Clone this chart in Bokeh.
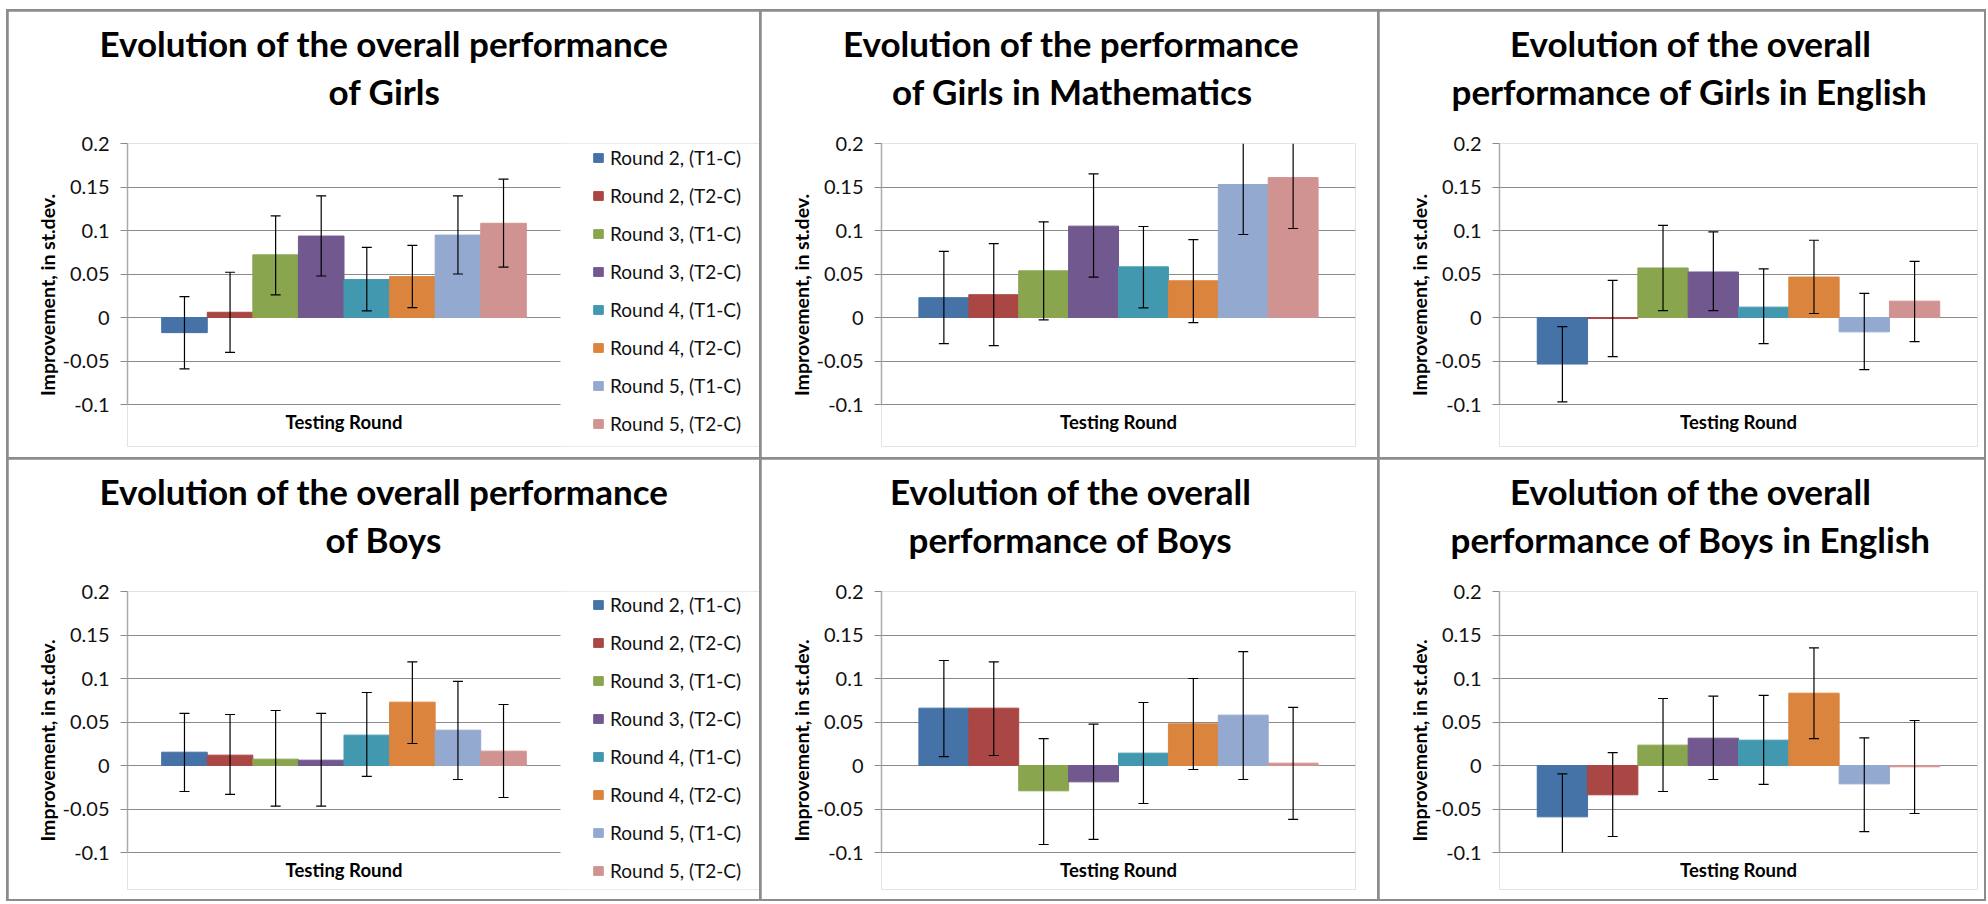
import numpy as np
from bokeh.plotting import figure
from bokeh.models import (Range1d, FixedTicker, LinearAxis, Legend, LegendItem,
                          ColumnDataSource, Grid, Title, Label, BoxAnnotation)
from bokeh.layouts import row, column
from bokeh.embed import file_html
from bokeh.resources import INLINE

# ---------------- data ----------------
series = ["Round 2, (T1-C)", "Round 2, (T2-C)", "Round 3, (T1-C)", "Round 3, (T2-C)",
          "Round 4, (T1-C)", "Round 4, (T2-C)", "Round 5, (T1-C)", "Round 5, (T2-C)"]
colors = ["#4572A7", "#AA4643", "#89A54E", "#71588F",
          "#4198AF", "#DB843D", "#93A9CF", "#D19392"]
y_ticks = [-0.1, -0.05, 0, 0.05, 0.1, 0.15, 0.2]
y_tick_labels = ["-0.1", "-0.05", "0", "0.05", "0.1", "0.15", "0.2"]
x_title = "Testing Round"
y_title = "Improvement, in st.dev."

girls_all = [-0.0174, 0.006, 0.072, 0.0936, 0.0436, 0.047, 0.0947, 0.1083]
girls_all_lo = [-0.059, -0.040, 0.026, 0.0477, 0.0076, 0.0114, 0.050, 0.058]
girls_all_hi = [0.0239, 0.052, 0.1167, 0.1398, 0.0807, 0.083, 0.1398, 0.159]

girls_math = [0.0228, 0.0262, 0.0536, 0.105, 0.0582, 0.0422, 0.1529, 0.1608]
girls_math_lo = [-0.030, -0.0323, -0.0027, 0.0464, 0.011, -0.006, 0.0954, 0.1023]
girls_math_hi = [0.076, 0.0848, 0.110, 0.165, 0.1046, 0.0894, 0.2104, 0.219]

girls_eng = [-0.0535, -0.0012, 0.0569, 0.0523, 0.0119, 0.0465, -0.0165, 0.0188]
girls_eng_lo = [-0.097, -0.045, 0.008, 0.008, -0.030, 0.0046, -0.060, -0.0277]
girls_eng_hi = [-0.0104, 0.0427, 0.106, 0.0985, 0.0558, 0.0888, 0.0277, 0.0646]

boys_all = [0.0153, 0.0119, 0.0073, 0.0061, 0.0349, 0.0728, 0.0406, 0.0165]
boys_all_lo = [-0.0299, -0.0333, -0.0467, -0.0467, -0.0126, 0.0253, -0.0161, -0.0368]
boys_all_hi = [0.0598, 0.0586, 0.0632, 0.0598, 0.0839, 0.119, 0.0966, 0.0701]

boys_all2 = [0.0659, 0.0659, -0.0291, -0.0188, 0.0142, 0.0479, 0.0579, 0.0027]
boys_all2_lo = [0.0103, 0.0115, -0.0908, -0.085, -0.0437, -0.0046, -0.0161, -0.062]
boys_all2_hi = [0.1207, 0.1192, 0.031, 0.0475, 0.0724, 0.100, 0.131, 0.0667]

boys_eng = [-0.059, -0.0337, 0.0234, 0.0314, 0.0291, 0.0831, -0.0211, -0.0015]
boys_eng_lo = [-0.108, -0.0816, -0.0299, -0.0161, -0.0218, 0.031, -0.0759, -0.0552]
boys_eng_hi = [-0.0096, 0.0149, 0.077, 0.0797, 0.0805, 0.1352, 0.0318, 0.0517]

titles = [("Evolution of the overall performance", "of Girls"),
          ("Evolution of the performance", "of Girls in Mathematics"),
          ("Evolution of the overall", "performance of Girls in English"),
          ("Evolution of the overall performance", "of Boys"),
          ("Evolution of the overall", "performance of Boys"),
          ("Evolution of the overall", "performance of Boys in English")]

# approximate rendered widths (px) of the title lines, used to centre them on the panel
title_widths = {"Evolution of the overall performance": 569, "of Girls": 111,
                "Evolution of the performance": 453, "of Girls in Mathematics": 355,
                "Evolution of the overall": 359, "performance of Girls in English": 476,
                "of Boys": 117, "performance of Boys": 322,
                "performance of Boys in English": 478}

FONT = "Lato"
GRID = "#8a8a8a"
TITLE_SIZE = 35
Y_LO, Y_HI = -0.1, 0.2
PLOT_H = 261  # pixel height of the value span -0.1 .. 0.2


def title_obj(text, offset, standoff):
    return Title(text=text, align="left", offset=offset, standoff=standoff,
                 text_font=FONT, text_font_size=f"{TITLE_SIZE}px",
                 text_font_style="bold", text_color="black", text_line_height=1.0)


def make_panel(title, vals, lo, hi, w, h, bl, br, bt, bb, title_center, xlab_dy,
               legend=None):
    """legend: (bars_px_width, legend_x, legend_y) or None"""
    n = len(series)
    x = np.arange(n) + 0.5
    frame_w = w - bl - br
    frame_h = h - bt - bb
    bars_w = frame_w if legend is None else legend[0]
    x_end = -0.75 + (n + 1.5) * frame_w / bars_w
    y_start = Y_HI - frame_h / PLOT_H * (Y_HI - Y_LO)
    p = figure(width=w, height=h, x_range=Range1d(-0.75, x_end),
               y_range=Range1d(y_start, Y_HI), output_backend="svg", toolbar_location=None,
               min_border_left=bl, min_border_right=br, min_border_top=bt,
               min_border_bottom=bb, x_axis_location=None, y_axis_location=None,
               title_location=None)
    p.outline_line_color = None
    p.background_fill_color = "white"
    p.border_fill_color = "white"
    p.grid.visible = False

    p.add_layout(Title(text=" ", text_font_size="2px", standoff=26), "above")
    l1, l2 = title
    p.add_layout(title_obj(l2, title_center - title_widths[l2] / 2 - bl, 4), "above")
    p.add_layout(title_obj(l1, title_center - title_widths[l1] / 2 - bl, 4), "above")

    ticker = FixedTicker(ticks=y_ticks)
    yaxis = LinearAxis(ticker=ticker, bounds=(Y_LO, Y_HI),
                       major_label_overrides={t: l for t, l in zip(y_ticks, y_tick_labels)},
                       axis_label=y_title)
    yaxis.axis_line_color = "#ababab"
    yaxis.axis_line_width = 1.5
    yaxis.major_tick_line_color = GRID
    yaxis.major_tick_out = 7
    yaxis.major_tick_in = 0
    yaxis.minor_tick_line_color = None
    yaxis.major_label_text_font = FONT
    yaxis.major_label_text_font_size = "20px"
    yaxis.major_label_text_color = "#111111"
    yaxis.major_label_standoff = 11
    yaxis.axis_label_text_font = FONT
    yaxis.axis_label_text_font_size = "19.5px"
    yaxis.axis_label_text_font_style = "bold"
    yaxis.axis_label_text_color = "black"
    yaxis.axis_label_standoff = 1
    p.add_layout(yaxis, "left")

    p.add_layout(Grid(dimension=1, ticker=ticker, grid_line_color=GRID, grid_line_width=1))

    # category axis title, placed under the value span
    p.add_layout(Label(x=n / 2, y=Y_LO - xlab_dy / PLOT_H * (Y_HI - Y_LO),
                       text=x_title, text_align="center", text_baseline="middle",
                       text_font=FONT, text_font_size="18.5px", text_font_style="bold",
                       text_color="black"))

    if legend is not None:
        # keep the gridlines to the bar area; the legend sits to its right
        p.add_layout(BoxAnnotation(left=n + 0.75, fill_color="white", fill_alpha=1.0,
                                   line_color=None, level="underlay"))

    items = []
    for i in range(n):
        r = p.vbar(x=[x[i]], top=[vals[i]], bottom=0, width=1.0,
                   fill_color=colors[i], line_color=colors[i])
        items.append(LegendItem(label=series[i], renderers=[r]))

    # error bars, cut at the axis bounds like the original chart
    lo_a, hi_a = np.asarray(lo), np.asarray(hi)
    src = ColumnDataSource(dict(x=x, lo=np.clip(lo_a, Y_LO, Y_HI), hi=np.clip(hi_a, Y_LO, Y_HI)))
    p.segment(x0="x", y0="lo", x1="x", y1="hi", source=src, line_color="black", line_width=1.2)
    lo_in = lo_a >= Y_LO
    hi_in = hi_a <= Y_HI
    p.scatter(x=x[lo_in], y=lo_a[lo_in], marker="dash", size=10, line_color="black",
              line_width=1.2)
    p.scatter(x=x[hi_in], y=hi_a[hi_in], marker="dash", size=10, line_color="black",
              line_width=1.2)

    if legend is not None:
        leg = Legend(items=items, location=(legend[1], legend[2]), margin=0, padding=0,
                     border_line_color=None, background_fill_alpha=0,
                     glyph_width=12, glyph_height=11, label_height=22, spacing=15,
                     label_standoff=6, label_text_font=FONT, label_text_font_size="19px",
                     label_text_color="#111111")
        p.add_layout(leg)
    return p


p1 = make_panel(titles[0], girls_all, girls_all_lo, girls_all_hi, 751, 446, 119, 0, 132, 11,
                375.5, 17.5, legend=(433, 465, 11))
p2 = make_panel(titles[1], girls_math, girls_math_lo, girls_math_hi, 616, 446, 120, 22, 132, 11,
                308, 17.5)
p3 = make_panel(titles[2], girls_eng, girls_eng_lo, girls_eng_hi, 605, 446, 120, 7, 132, 11,
                310, 17.5)
p4 = make_panel(titles[3], boys_all, boys_all_lo, boys_all_hi, 751, 440, 119, 0, 132, 10,
                375.5, 17, legend=(433, 465, 7))
p5 = make_panel(titles[4], boys_all2, boys_all2_lo, boys_all2_hi, 616, 440, 120, 22, 132, 10,
                308, 17)
p6 = make_panel(titles[5], boys_eng, boys_eng_lo, boys_eng_hi, 605, 440, 120, 7, 132, 10,
                310, 17)

layout = column(row(p1, p2, p3, spacing=2), row(p4, p5, p6, spacing=2), spacing=2,
                styles={"background-color": "#8c8c8c", "padding": "2px",
                        "margin-left": "6px", "margin-top": "9px"})

open("out.html", "w").write(file_html(layout, INLINE))
